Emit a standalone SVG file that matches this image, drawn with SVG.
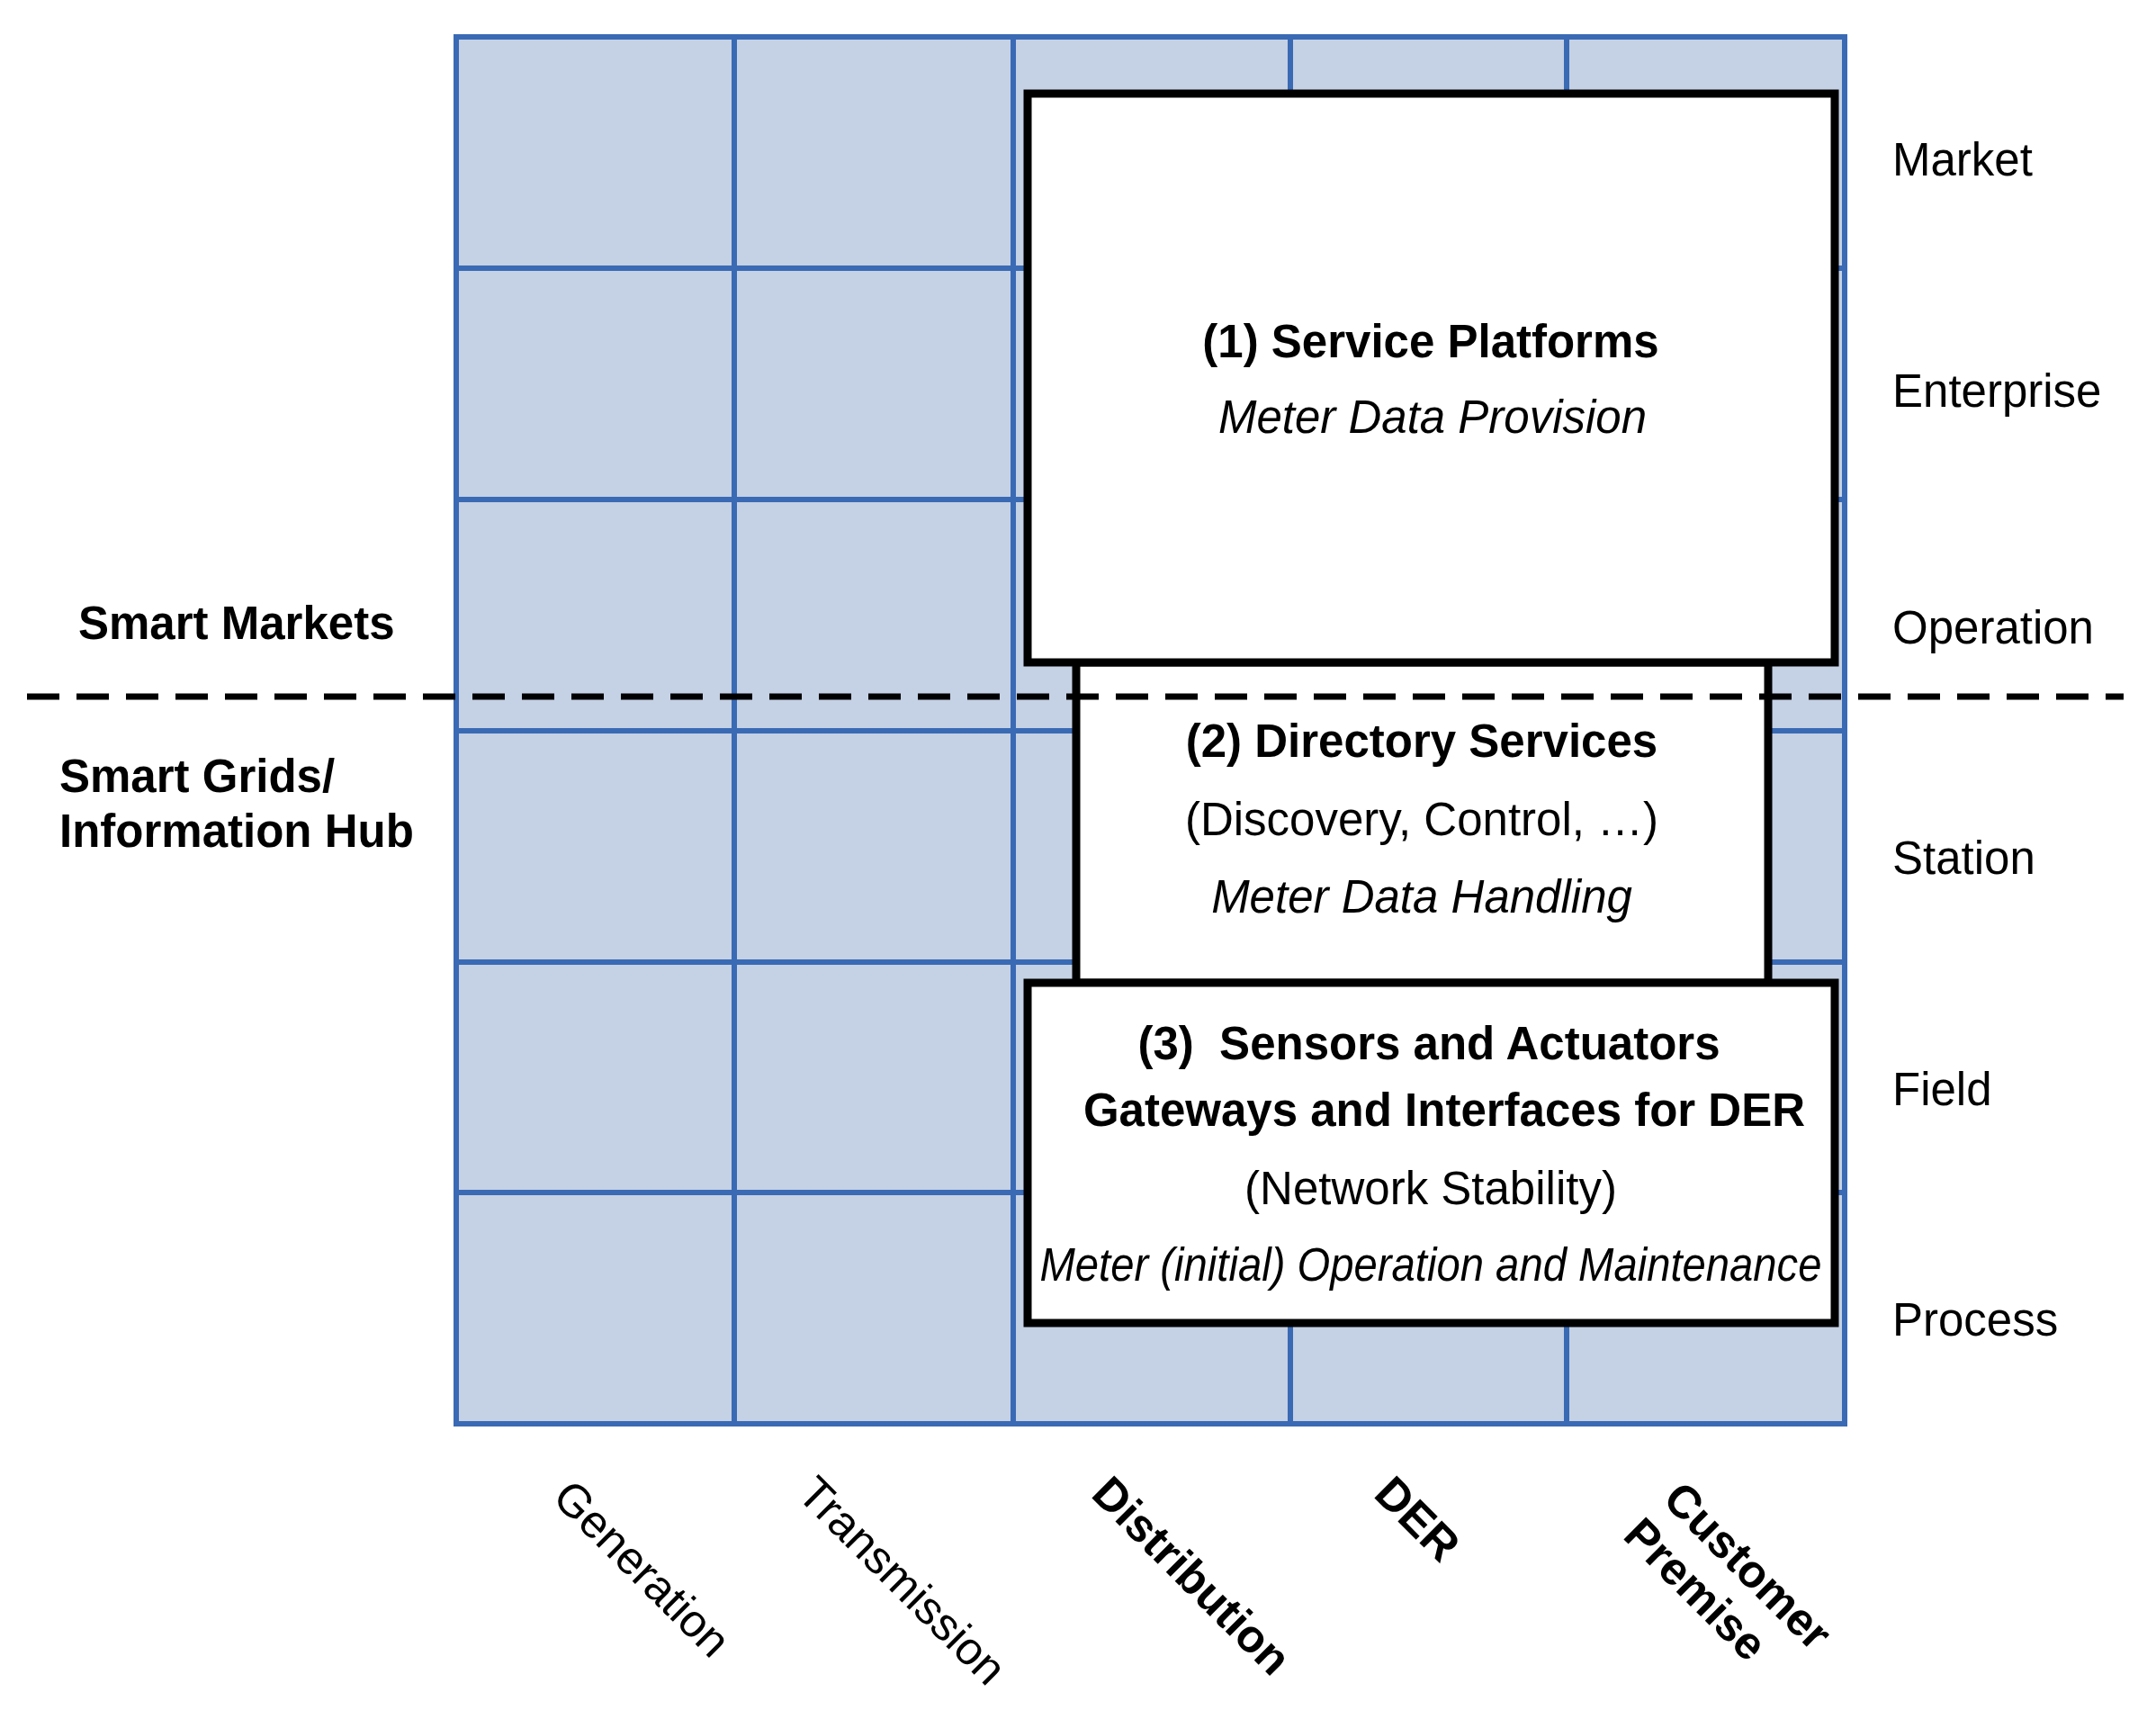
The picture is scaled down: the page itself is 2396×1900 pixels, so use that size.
<svg xmlns="http://www.w3.org/2000/svg" width="2396" height="1900" viewBox="0 0 2396 1900">
<style>
text{font-family:"Liberation Sans",Arial,sans-serif;font-size:51px;fill:#000}
.b{font-weight:bold}
.i{font-style:italic}
.c{text-anchor:middle}
.g{stroke:#3a6ab4;stroke-width:6;fill:none}
.box{fill:#fff;stroke:#000;stroke-width:9}
</style>
<rect width="2396" height="1900" fill="#fff"/>
<g id="grid">
<rect x="507" y="41" width="1543" height="1541" fill="#c5d1e4"/>
<path class="g" d="M507 41H2050V1582H507Z M816 41V1582 M1126 41V1582 M1434 41V1582 M1741 41V1582 M507 298H2050 M507 555H2050 M507 812H2050 M507 1069H2050 M507 1325H2050"/>
</g>
<g id="layers">
<text x="2103" y="195">Market</text>
<text x="2103" y="452">Enterprise</text>
<text x="2103" y="715">Operation</text>
<text x="2103" y="971">Station</text>
<text x="2103" y="1228">Field</text>
<text x="2103" y="1484">Process</text>
</g>
<g id="left-labels">
<text class="b" x="87" y="710">Smart Markets</text>
<text class="b" x="66" y="880">Smart Grids/</text>
<text class="b" x="66" y="941">Information Hub</text>
</g>
<g id="node2">
<rect class="box" x="1196" y="736" width="769" height="356"/>
<text class="b c" x="1580" y="841">(2) Directory Services</text>
<text class="c" x="1580" y="928">(Discovery, Control, …)</text>
<text class="i c" x="1580" y="1014">Meter Data Handling</text>
</g>
<g id="node1">
<rect class="box" x="1142" y="104" width="897" height="632"/>
<text class="b c" x="1590" y="397">(1) Service Platforms</text>
<text class="i c" x="1592" y="481">Meter Data Provision</text>
</g>
<g id="node3">
<rect class="box" x="1142" y="1092" width="897" height="378"/>
<text class="b c" x="1588" y="1177" xml:space="preserve">(3)  Sensors and Actuators</text>
<text class="b c" x="1605" y="1251">Gateways and Interfaces for DER</text>
<text class="c" x="1590" y="1338">(Network Stability)</text>
<text class="i c" x="1590" y="1423" textLength="869" lengthAdjust="spacingAndGlyphs">Meter (initial) Operation and Maintenance</text>
</g>
<g id="connectors">
<line x1="30" y1="774" x2="2360" y2="774" stroke="#000" stroke-width="7" stroke-dasharray="36,19"/>
</g>
<g id="domains">
<text transform="translate(612,1666) rotate(45)">Generation</text>
<text transform="translate(884,1662) rotate(45)">Transmission</text>
<text class="b" transform="translate(1211,1662) rotate(45)">Distribution</text>
<text class="b" transform="translate(1525,1662) rotate(45)">DER</text>
<text class="b" transform="translate(1846,1668) rotate(45)">Customer</text>
<text class="b" transform="translate(1802,1708) rotate(45)">Premise</text>
</g>
</svg>
